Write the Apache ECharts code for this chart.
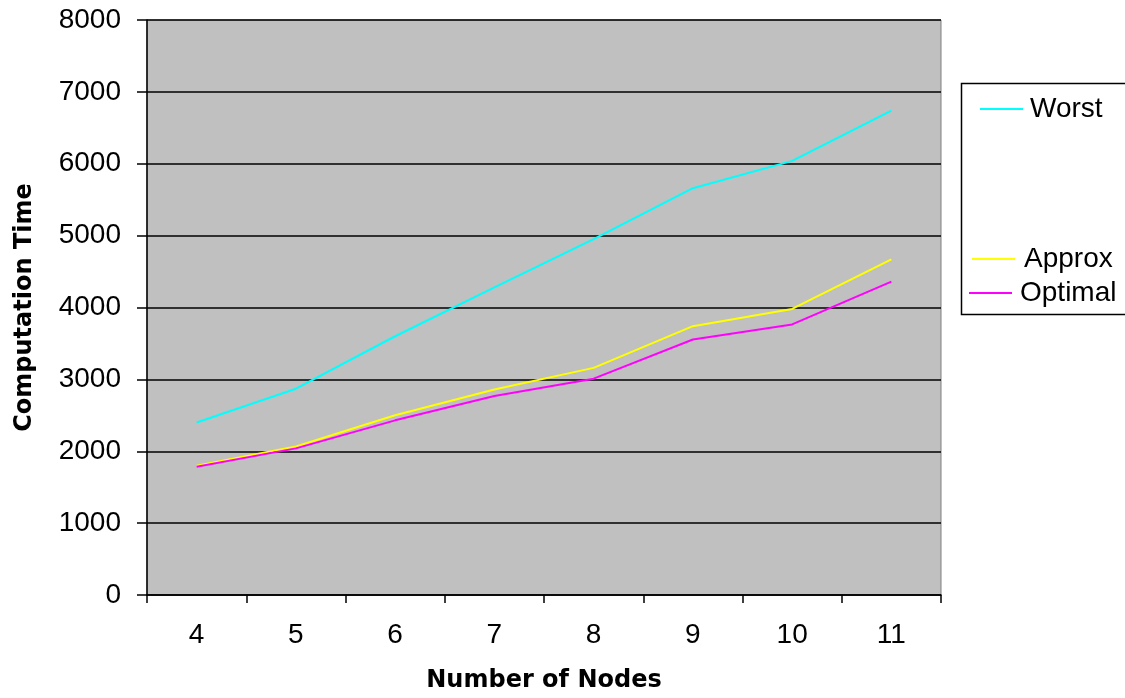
<!DOCTYPE html>
<html>
<head>
<meta charset="utf-8">
<script src="https://cdn.jsdelivr.net/npm/echarts@6/dist/echarts.min.js"></script>
<style>
html,body{margin:0;padding:0;background:#fff;}
#chart{width:1125px;height:698px;}
</style>
</head>
<body>
<div id="chart"></div>
<script>
const categories = ['4','5','6','7','8','9','10','11'];
const worst   = [2400, 2870, 3600, 4280, 4950, 5660, 6040, 6740];
const approx  = [1800, 2065, 2500, 2860, 3160, 3740, 3980, 4670];
const optimal = [1785, 2040, 2430, 2770, 3010, 3555, 3765, 4360];
const yTicks = { min: 0, max: 8000, interval: 1000 };

const FONT = '"Liberation Sans", Arial, sans-serif';
const BOLD = '"DejaVu Sans", sans-serif';
const chart = echarts.init(document.getElementById('chart'), null, {renderer: 'canvas'});

const lineSeries = (name, data, color) => ({
  name, type: 'line', data,
  symbol: 'none', showSymbol: false,
  lineStyle: { color, width: 2 },
  itemStyle: { color },
  animation: false
});

const legendItem = (name, left, top, gap) => ({
  data: [name],
  left, top,
  padding: 0,
  orient: 'vertical',
  itemWidth: 43, itemHeight: 2,
  icon: 'rect',
  textStyle: { fontFamily: FONT, fontSize: 28, color: '#000', padding: [0, 0, 0, gap] }
});

chart.setOption({
  backgroundColor: '#ffffff',
  animation: false,
  grid: {
    left: 147, right: 184, top: 20, bottom: 102,
    show: true, backgroundColor: '#c0c0c0', borderColor: '#808080', borderWidth: 1
  },
  xAxis: {
    type: 'category',
    data: categories,
    boundaryGap: true,
    name: 'Number of Nodes',
    nameLocation: 'middle',
    nameGap: 74,
    nameTextStyle: { fontFamily: BOLD, fontSize: 24, fontWeight: 'bold', color: '#000' },
    axisLine: { show: true, lineStyle: { color: '#000', width: 1.5 } },
    axisTick: { show: true, length: 8, lineStyle: { color: '#000', width: 1.5 } },
    axisLabel: { fontFamily: FONT, fontSize: 28, color: '#000', margin: 26 },
    splitLine: { show: false }
  },
  yAxis: {
    type: 'value',
    min: yTicks.min, max: yTicks.max, interval: yTicks.interval,
    name: 'Computation Time',
    nameLocation: 'middle',
    nameGap: 110,
    nameRotate: 90,
    nameTextStyle: { fontFamily: BOLD, fontSize: 24, fontWeight: 'bold', color: '#000' },
    axisLine: { show: true, lineStyle: { color: '#000', width: 1.5 } },
    axisTick: { show: true, length: 10, lineStyle: { color: '#000', width: 1.5 } },
    axisLabel: { fontFamily: FONT, fontSize: 28, color: '#000', margin: 26,
                 formatter: v => String(v) },
    splitLine: { show: true, lineStyle: { color: '#000', width: 1.5 } }
  },
  legend: [
    legendItem('Worst', 980, 95, 2),
    legendItem('Approx', 972, 245, 4),
    legendItem('Optimal', 969, 279, 3)
  ],
  graphic: [
    {
      type: 'rect',
      shape: { x: 961.5, y: 83.5, width: 170, height: 231 },
      style: { fill: '#ffffff', stroke: '#000', lineWidth: 1.5 },
      z: -1
    }
  ],
  series: [
    lineSeries('Worst', worst, '#00ffff'),
    lineSeries('Approx', approx, '#ffff00'),
    lineSeries('Optimal', optimal, '#ff00ff')
  ]
});
</script>
</body>
</html>
